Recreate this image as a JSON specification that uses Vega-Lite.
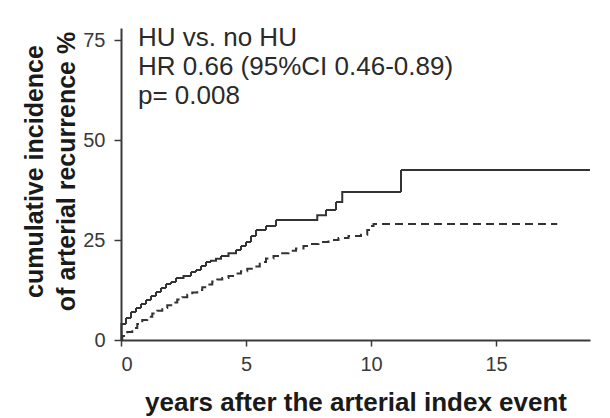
{
  "$schema": "https://vega.github.io/schema/vega-lite/v6.json",
  "width": 469,
  "height": 312,
  "autosize": {"type": "none"},
  "padding": {"left": 121, "top": 28, "right": 20, "bottom": 78},
  "background": "white",
  "config": {
    "view": {"stroke": null},
    "font": "Liberation Sans",
    "axis": {
      "domainColor": "#3a3a3a",
      "domainWidth": 2,
      "tickColor": "#3a3a3a",
      "tickWidth": 1.5,
      "tickSize": 6,
      "grid": false,
      "labelFont": "Liberation Sans",
      "labelFontSize": 20,
      "labelColor": "#3a3a3a",
      "titleFont": "Liberation Sans",
      "titleFontSize": 25,
      "titleFontWeight": "bold",
      "titleColor": "#1a1a1a"
    }
  },
  "data": {
    "values": [
      {"group": "no HU", "t": 0, "v": 0},
      {"group": "no HU", "t": 0.02, "v": 4},
      {"group": "no HU", "t": 0.2, "v": 5.5},
      {"group": "no HU", "t": 0.4, "v": 7},
      {"group": "no HU", "t": 0.6, "v": 8},
      {"group": "no HU", "t": 0.8, "v": 9},
      {"group": "no HU", "t": 1.0, "v": 10},
      {"group": "no HU", "t": 1.2, "v": 11},
      {"group": "no HU", "t": 1.4, "v": 12},
      {"group": "no HU", "t": 1.6, "v": 13},
      {"group": "no HU", "t": 1.8, "v": 14},
      {"group": "no HU", "t": 2.0, "v": 14.5},
      {"group": "no HU", "t": 2.2, "v": 15.5},
      {"group": "no HU", "t": 2.5, "v": 16},
      {"group": "no HU", "t": 2.8, "v": 17},
      {"group": "no HU", "t": 3.0, "v": 17.5},
      {"group": "no HU", "t": 3.2, "v": 18.5},
      {"group": "no HU", "t": 3.4, "v": 19.5},
      {"group": "no HU", "t": 3.6, "v": 19.8},
      {"group": "no HU", "t": 3.8, "v": 20.3},
      {"group": "no HU", "t": 4.0, "v": 21},
      {"group": "no HU", "t": 4.3, "v": 21.7},
      {"group": "no HU", "t": 4.6, "v": 22.5},
      {"group": "no HU", "t": 4.8, "v": 23.5},
      {"group": "no HU", "t": 5.0, "v": 24.5},
      {"group": "no HU", "t": 5.2, "v": 26},
      {"group": "no HU", "t": 5.4, "v": 27.5},
      {"group": "no HU", "t": 5.8, "v": 28.5},
      {"group": "no HU", "t": 6.2, "v": 30},
      {"group": "no HU", "t": 7.85, "v": 31.2},
      {"group": "no HU", "t": 8.2, "v": 32.5},
      {"group": "no HU", "t": 8.6, "v": 34.5},
      {"group": "no HU", "t": 8.85, "v": 37},
      {"group": "no HU", "t": 11.2, "v": 42.5},
      {"group": "no HU", "t": 18.76, "v": 42.5},
      {"group": "HU", "t": 0, "v": 0},
      {"group": "HU", "t": 0.05, "v": 1},
      {"group": "HU", "t": 0.25, "v": 2},
      {"group": "HU", "t": 0.45, "v": 3},
      {"group": "HU", "t": 0.65, "v": 4},
      {"group": "HU", "t": 0.85, "v": 5},
      {"group": "HU", "t": 1.05, "v": 5.8},
      {"group": "HU", "t": 1.25, "v": 6.6},
      {"group": "HU", "t": 1.45, "v": 7.3},
      {"group": "HU", "t": 1.65, "v": 8},
      {"group": "HU", "t": 1.85, "v": 8.7},
      {"group": "HU", "t": 2.05, "v": 9.4},
      {"group": "HU", "t": 2.25, "v": 10.1},
      {"group": "HU", "t": 2.45, "v": 10.7},
      {"group": "HU", "t": 2.65, "v": 11.3},
      {"group": "HU", "t": 2.85, "v": 11.9},
      {"group": "HU", "t": 3.05, "v": 12.5},
      {"group": "HU", "t": 3.25, "v": 13.2},
      {"group": "HU", "t": 3.45, "v": 13.9},
      {"group": "HU", "t": 3.65, "v": 14.6},
      {"group": "HU", "t": 3.85, "v": 15.1},
      {"group": "HU", "t": 4.05, "v": 15.5},
      {"group": "HU", "t": 4.3, "v": 16},
      {"group": "HU", "t": 4.55, "v": 16.6},
      {"group": "HU", "t": 4.8, "v": 17.2},
      {"group": "HU", "t": 5.05, "v": 17.8},
      {"group": "HU", "t": 5.3, "v": 18.4},
      {"group": "HU", "t": 5.55, "v": 19.5},
      {"group": "HU", "t": 5.8, "v": 20.4},
      {"group": "HU", "t": 6.1, "v": 21},
      {"group": "HU", "t": 6.4, "v": 21.7},
      {"group": "HU", "t": 6.7, "v": 22.3},
      {"group": "HU", "t": 7.0, "v": 22.9},
      {"group": "HU", "t": 7.3, "v": 23.5},
      {"group": "HU", "t": 7.6, "v": 24},
      {"group": "HU", "t": 7.9, "v": 24.5},
      {"group": "HU", "t": 8.3, "v": 25},
      {"group": "HU", "t": 8.7, "v": 25.5},
      {"group": "HU", "t": 9.1, "v": 26},
      {"group": "HU", "t": 9.6, "v": 26.3},
      {"group": "HU", "t": 9.85, "v": 27.5},
      {"group": "HU", "t": 10.0, "v": 28.5},
      {"group": "HU", "t": 10.1, "v": 29},
      {"group": "HU", "t": 17.45, "v": 29}
    ]
  },
  "layer": [
    {
      "mark": {"type": "line", "interpolate": "step-after", "strokeWidth": 2, "color": "#333333"},
      "encoding": {
        "x": {
          "field": "t", "type": "quantitative",
          "scale": {"domain": [0, 18.76], "nice": false, "zero": false},
          "axis": {"values": [0, 5, 10, 15], "title": "years after the arterial index event", "titleFontSize": 26, "titleY": 70, "titleBaseline": "alphabetic", "labelPadding": 8}
        },
        "y": {
          "field": "v", "type": "quantitative",
          "scale": {"domain": [0, 78], "nice": false},
          "axis": {"values": [0, 25, 50, 75], "title": ["cumulative incidence", "of arterial recurrence %"], "titleX": -79, "titleY": 143, "titleAngle": -90, "titleAlign": "center", "titleBaseline": "alphabetic", "titleLineHeight": 32, "labelPadding": 9, "tickSize": 7}
        },
        "strokeDash": {
          "field": "group", "type": "nominal",
          "scale": {"domain": ["no HU", "HU"], "range": [[1, 0], [8, 5]]},
          "legend": null
        }
      }
    },
    {
      "data": {"values": [{"label": ["HU vs. no HU", "HR 0.66 (95%CI 0.46-0.89)", "p= 0.008"]}]},
      "mark": {"type": "text", "align": "left", "baseline": "alphabetic", "fontSize": 26, "lineHeight": 29, "color": "#2a2a2a", "font": "Liberation Sans"},
      "encoding": {
        "text": {"field": "label"},
        "x": {"datum": 0.68},
        "y": {"datum": 73.5}
      }
    }
  ]
}
